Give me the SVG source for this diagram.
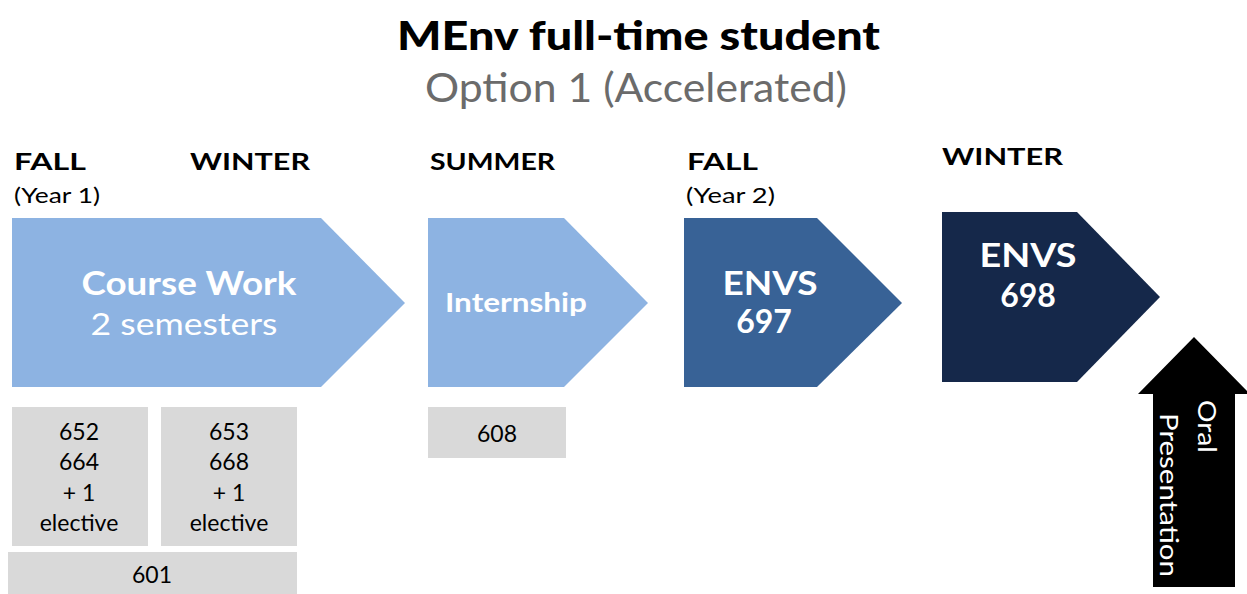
<svg xmlns="http://www.w3.org/2000/svg" width="1247" height="594" viewBox="0 0 1247 594">
<style>
text{font-family:"Lato","Open Sans","Liberation Sans",sans-serif}
.t1{font-size:40px;font-weight:900;fill:#000}
.t2{font-size:40px;fill:#6b6b6b}
.sem{font-size:23px;font-weight:bold;fill:#000}
.yr{font-size:22px;fill:#000}
.w{fill:#fff;text-anchor:middle}
.b{font-weight:bold}
.box{fill:#d9d9d9}
.bt{font-size:23px;fill:#000;text-anchor:middle}
.light{fill:#8db3e2}
</style>
<rect width="1247" height="594" fill="#fff"/>
<g id="title">
<text class="t1" x="397" y="50" textLength="483" lengthAdjust="spacingAndGlyphs">MEnv full-time student</text>
<text class="t2" x="425" y="102" textLength="422" lengthAdjust="spacingAndGlyphs">Option 1 (Accelerated)</text>
</g>
<g id="labels">
<text class="sem" x="14" y="170" textLength="72" lengthAdjust="spacingAndGlyphs">FALL</text>
<text class="yr" x="14" y="203" textLength="86" lengthAdjust="spacingAndGlyphs">(Year 1)</text>
<text class="sem" x="190" y="170" textLength="120" lengthAdjust="spacingAndGlyphs">WINTER</text>
<text class="sem" x="430" y="170" textLength="125" lengthAdjust="spacingAndGlyphs">SUMMER</text>
<text class="sem" x="687" y="170" textLength="71" lengthAdjust="spacingAndGlyphs">FALL</text>
<text class="yr" x="686" y="203" textLength="89" lengthAdjust="spacingAndGlyphs">(Year 2)</text>
<text class="sem" x="942" y="165" textLength="121" lengthAdjust="spacingAndGlyphs">WINTER</text>
</g>
<g id="coursework">
<polygon class="light" points="12,218 321,218 405,303 321,387 12,387"/>
<text class="w b" x="189" y="295" font-size="32" textLength="215" lengthAdjust="spacingAndGlyphs">Course Work</text>
<text class="w" x="184" y="335" font-size="31" textLength="187" lengthAdjust="spacingAndGlyphs">2 semesters</text>
</g>
<g id="internship">
<polygon class="light" points="428,218 564,218 648,303 564,387 428,387"/>
<text class="w b" x="516" y="312" font-size="26" textLength="142" lengthAdjust="spacingAndGlyphs">Internship</text>
</g>
<g id="envs697">
<polygon fill="#386296" points="684,218 817,218 902,303 817,387 684,387"/>
<text class="w b" x="770" y="295" font-size="32" textLength="95" lengthAdjust="spacingAndGlyphs">ENVS</text>
<text class="w b" x="764" y="333" font-size="32">697</text>
</g>
<g id="envs698">
<polygon fill="#15284a" points="942,212 1077,212 1160,297 1077,382 942,382"/>
<text class="w b" x="1028" y="267" font-size="32" textLength="97" lengthAdjust="spacingAndGlyphs">ENVS</text>
<text class="w b" x="1028" y="307" font-size="32">698</text>
</g>
<g id="fall1box">
<rect class="box" x="12" y="407" width="136" height="139"/>
<text class="bt" x="79" y="440">652</text>
<text class="bt" x="79" y="470">664</text>
<text class="bt" x="79" y="501">+ 1</text>
<text class="bt" x="79" y="531">elective</text>
</g>
<g id="winter1box">
<rect class="box" x="161" y="407" width="136" height="139"/>
<text class="bt" x="229" y="440">653</text>
<text class="bt" x="229" y="470">668</text>
<text class="bt" x="229" y="501">+ 1</text>
<text class="bt" x="229" y="531">elective</text>
</g>
<g id="box601">
<rect class="box" x="8" y="552" width="289" height="42"/>
<text class="bt" x="152" y="583">601</text>
</g>
<g id="box608">
<rect class="box" x="428" y="407" width="138" height="51"/>
<text class="bt" x="497" y="442">608</text>
</g>
<g id="oral">
<polygon fill="#000" points="1194,337 1250,394 1235,394 1235,587 1153,587 1153,394 1138,394"/>
<text fill="#fff" font-size="25" transform="translate(1198,400) rotate(90)" textLength="53" lengthAdjust="spacingAndGlyphs">Oral</text>
<text fill="#fff" font-size="25" transform="translate(1160,413) rotate(90)" textLength="164" lengthAdjust="spacingAndGlyphs">Presentation</text>
</g>
<g id="connectors"/>
</svg>
